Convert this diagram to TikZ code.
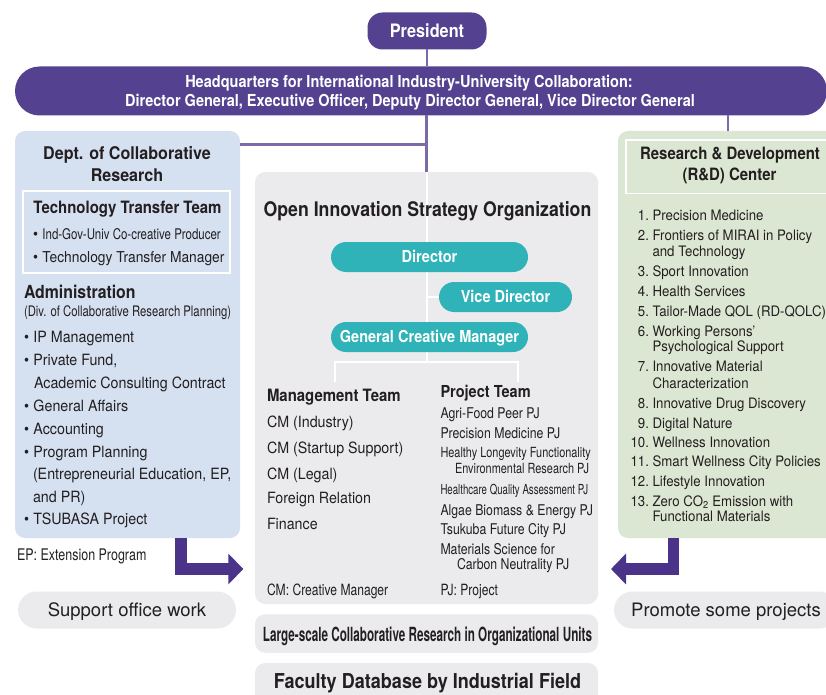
\documentclass[tikz,border=0pt]{standalone}
\usepackage{fontspec}
\setmainfont{TeX Gyre Heros}
\newfontfamily\fbody{TeX Gyre Heros}[FakeStretch=0.92]
\newfontfamily\fhead{TeX Gyre Heros}[FakeStretch=0.88]
\newfontfamily\fproj{TeX Gyre Heros}[FakeStretch=0.83]
\newfontfamily\fcond{TeX Gyre Heros}[FakeStretch=0.78]
\newfontfamily\fxcond{TeX Gyre Heros}[FakeStretch=0.70]
\newfontfamily\fxxcond{TeX Gyre Heros}[FakeStretch=0.60]
\usetikzlibrary{arrows.meta}
\newcommand\fsz[1]{\fontsize{#1pt}{#1pt}\selectfont}
\newcommand\bul{{\fbody\fsz{15.5}\textbullet}\hspace{4.5pt}}
\definecolor{pur}{HTML}{544291}
\definecolor{arpur}{HTML}{4B3389}
\definecolor{lnpur}{HTML}{7D68A8}
\definecolor{tealc}{HTML}{2FB3B8}
\definecolor{bluebox}{HTML}{D5E0F1}
\definecolor{greenbox}{HTML}{DCE7D3}
\definecolor{graybox}{HTML}{EBEBED}
\definecolor{ink}{HTML}{231F20}
\tikzset{
  box/.style={rectangle, rounded corners=10pt, inner sep=0pt, outer sep=0pt},
  pill/.style={rectangle, rounded corners=15pt, inner sep=0pt, outer sep=0pt, text=white, fill=tealc,
    minimum height=30pt, text height=11.9pt, text depth=0pt, font=\fhead\bfseries\fsz{16.5}},
  gpill/.style={rectangle, rounded corners=18.5pt, inner sep=0pt, outer sep=0pt, fill=graybox, text=ink,
    minimum height=37pt, text height=13.3pt, text depth=0pt, font=\fsz{18.5}},
  t/.style={inner sep=0pt, outer sep=0pt, anchor=base west, text=ink},
  tc/.style={inner sep=0pt, outer sep=0pt, anchor=base, text=ink},
  body/.style={t, font=\fbody\fsz{15.5}},
  rdl/.style={t, font=\fbody\fsz{14.4}},
  rdn/.style={inner sep=0pt, outer sep=0pt, anchor=base east, text=ink, font=\fbody\fsz{14.4}},
  proj/.style={t, font=\fproj\fsz{14.8}},
  conn/.style={draw=lnpur, line width=2.4pt},
  wline/.style={draw=white, line width=2pt},
  bigarr/.style={draw=arpur, line width=11.5pt, -{Triangle[length=15pt,width=30pt]}},
}
\begin{document}
\begin{tikzpicture}[x=1pt,y=-1pt]
\useasboundingbox (0,0) rectangle (826,695);
\clip (0,0) rectangle (826,695);

% ---------- top ----------
\node[box, fill=pur, rounded corners=15pt, minimum width=119pt, minimum height=37pt,
  text=white, text height=13.3pt, text depth=0pt, font=\fhead\bfseries\fsz{18.5}] (pres) at (427,31) {President};
\node[box, fill=pur, rounded corners=24.5pt, minimum width=812pt, minimum height=49pt] (hq) at (421,91) {};
\node[tc, text=white, font=\fhead\bfseries\fsz{16.5}] (hq1) at (409,88) {Headquarters for International Industry-University Collaboration:};
\node[tc, text=white, font=\fhead\bfseries\fsz{16.5}] (hq2) at (410,107) {Director General, Executive Officer, Deputy Director General, Vice Director General};

% ---------- left box ----------
\node[box, fill=bluebox, minimum width=225pt, minimum height=407pt] (dept) at (127.5,334.5) {};
\node[tc, font=\fbody\bfseries\fsz{17.5}] (d1) at (127,160) {Dept. of Collaborative};
\node[tc, font=\fbody\bfseries\fsz{17.5}] (d2) at (127,181) {Research};
\node[rectangle, draw=white, line width=1.3pt, inner sep=0pt, minimum width=207pt, minimum height=82pt] (ttb) at (126.5,232) {};
\node[tc, font=\fhead\bfseries\fsz{17}] (tt0) at (127.5,213) {Technology Transfer Team};
\node[t, font=\fcond\fsz{14.7}] (tt1) at (33,239) {\bul Ind-Gov-Univ Co-creative Producer};
\node[t, font=\fbody\fsz{15}] (tt2) at (33,262) {\bul Technology Transfer Manager};
\node[t, font=\fhead\bfseries\fsz{18}] (adm) at (24,298) {Administration};
\node[t, font=\fcond\fsz{14.5}] (adm1) at (24,316.5) {(Div. of Collaborative Research Planning)};
\node[body] (l1) at (24,342) {\bul IP Management};
\node[body] (l2) at (24,365) {\bul Private Fund,};
\node[body] (l2b) at (34,388) {Academic Consulting Contract};
\node[body] (l3) at (24,411) {\bul General Affairs};
\node[body] (l4) at (24,434) {\bul Accounting};
\node[body] (l5) at (24,457) {\bul Program Planning};
\node[body] (l5b) at (33,479) {(Entrepreneurial Education, EP,};
\node[body] (l5c) at (33,502) {and PR)};
\node[body] (l6) at (24,524.5) {\bul TSUBASA Project};
\node[t, font=\fcond\fsz{16}] (ep) at (17,560) {EP: Extension Program};
\node[gpill, minimum width=218pt] (sup) at (127,610) {Support office work};

% ---------- right box ----------
\node[box, fill=greenbox, minimum width=220pt, minimum height=407pt] (rd) at (728,334.5) {};
\node[rectangle, draw=white, line width=1.3pt, inner sep=0pt, minimum width=214pt, minimum height=53.3pt] (rdt) at (733,166.7) {};
\node[tc, font=\fhead\bfseries\fsz{17}] (r1) at (730,160) {Research \& Development};
\node[tc, font=\fhead\bfseries\fsz{17}] (r2) at (729.5,180.5) {(R\&D) Center};
\node[rdn] (n1) at (649,220) {1.};  \node[rdl] (i1) at (652.5,220) {Precision Medicine};
\node[rdn] (n2) at (649,240) {2.};  \node[rdl] (i2) at (652.5,240) {Frontiers of MIRAI in Policy};
\node[rdl] (i2b) at (652.5,256.7) {and Technology};
\node[rdn] (n3) at (649,276.7) {3.}; \node[rdl] (i3) at (652.5,276.7) {Sport Innovation};
\node[rdn] (n4) at (649,296.7) {4.}; \node[rdl] (i4) at (652.5,296.7) {Health Services};
\node[rdn] (n5) at (649,316) {5.};   \node[rdl] (i5) at (652.5,316) {Tailor-Made QOL (RD-QOLC)};
\node[rdn] (n6) at (649,336) {6.};   \node[rdl] (i6) at (652.5,336) {Working Persons’};
\node[rdl] (i6b) at (652.5,351.7) {Psychological Support};
\node[rdn] (n7) at (649,371.7) {7.}; \node[rdl] (i7) at (652.5,371.7) {Innovative Material};
\node[rdl] (i7b) at (652.5,388.3) {Characterization};
\node[rdn] (n8) at (649,408.3) {8.}; \node[rdl] (i8) at (652.5,408.3) {Innovative Drug Discovery};
\node[rdn] (n9) at (649,428.3) {9.}; \node[rdl] (i9) at (652.5,428.3) {Digital Nature};
\node[rdn] (n10) at (649,447.7) {10.}; \node[rdl] (i10) at (652.5,447.7) {Wellness Innovation};
\node[rdn] (n11) at (649,466.7) {11.}; \node[rdl] (i11) at (652.5,466.7) {Smart Wellness City Policies};
\node[rdn] (n12) at (649,486) {12.};   \node[rdl] (i12) at (652.5,486) {Lifestyle Innovation};
\node[rdn] (n13) at (649,506) {13.};   \node[rdl] (i13) at (652.5,506) {Zero CO\textsubscript{2} Emission with};
\node[rdl] (i13b) at (652.5,521.7) {Functional Materials};
\node[gpill, minimum width=224pt] (prom) at (726,610) {Promote some projects};

% ---------- centre box ----------
\node[box, fill=graybox, minimum width=343pt, minimum height=432pt] (oiso) at (426.5,388) {};
\coordinate (bk) at (oiso.north |- 0,362);
\coordinate (vw) at (439,297);
\coordinate (bl) at (335,382);
\coordinate (br) at (518,382);
\draw[wline] (oiso.north) -- (bk);
\draw[wline] (vw -| bk) -- (vw);
\draw[wline] (bl) |- (bk) -| (br);
\node[tc, font=\fhead\bfseries\fsz{20.1}] (oisot) at (427.5,216) {Open Innovation Strategy Organization};
\node[pill, minimum width=197pt] (dir) at (429.5,257) {Director};
\node[pill, minimum width=133pt, anchor=west] (vice) at (vw) {Vice Director};
\node[pill, minimum width=197pt] (gcm) at (429.5,337) {General Creative Manager};

\node[t, font=\fhead\bfseries\fsz{17}] (mt) at (267,401) {Management Team};
\node[body] (m1) at (267,427) {CM (Industry)};
\node[body] (m2) at (267,453) {CM (Startup Support)};
\node[body] (m3) at (267,479) {CM (Legal)};
\node[body] (m4) at (267,503.5) {Foreign Relation};
\node[body] (m5) at (267,529.5) {Finance};
\node[t, font=\fcond\fsz{15.5}] (cm) at (267,595) {CM: Creative Manager};

\node[t, font=\fhead\bfseries\fsz{16.5}] (pt) at (440.5,397) {Project Team};
\node[proj] (p1) at (440.5,418.3) {Agri-Food Peer PJ};
\node[proj] (p2) at (440.5,438) {Precision Medicine PJ};
\node[t, font=\fcond\fsz{14}] (p3) at (440.5,457.3) {Healthy Longevity Functionality};
\node[t, font=\fcond\fsz{14}] (p3b) at (455,473.3) {Environmental Research PJ};
\node[t, font=\fxcond\fsz{13.8}] (p4) at (440.5,494) {Healthcare Quality Assessment PJ};
\node[proj] (p5) at (440.5,515) {Algae Biomass \& Energy PJ};
\node[proj] (p6) at (440.5,534.3) {Tsukuba Future City PJ};
\node[proj] (p7) at (440.5,554) {Materials Science for};
\node[proj] (p7b) at (457,569.3) {Carbon Neutrality PJ};
\node[t, font=\fcond\fsz{15.5}] (pj) at (440.5,595) {PJ: Project};

\node[box, fill=graybox, minimum width=343pt, minimum height=38.5pt] (large) at (426.5,633.5) {};
\node[tc, font=\fxxcond\bfseries\fsz{19.5}] (larget) at (427.5,641.5) {Large-scale Collaborative Research in Organizational Units};
\node[box, fill=graybox, minimum width=343pt, minimum height=42pt] (fac) at (426.5,684) {};
\node[tc, font=\fhead\bfseries\fsz{20.5}] (fact) at (427.5,688.5) {Faculty Database by Industrial Field};

% ---------- connectors ----------
\draw[conn] (pres.south) -- (pres.south |- hq.north);
\draw[conn] (oiso.north |- hq.south) -- (oiso.north);
\coordinate (lj) at (oiso.north |- 0,144.5);
\draw[conn] (dept.east |- lj) -- (lj);
\coordinate (rj) at (728,100);
\draw[conn] (rj |- hq.south) -- (rj |- rd.north);

\coordinate (lb) at (181,569);
\coordinate (lt) at (243.3,569);
\draw[bigarr] (dept.south -| lb) -- (lb) -- (lt);
\coordinate (rb) at (673.5,569);
\coordinate (rt) at (611,569);
\draw[bigarr] (rd.south -| rb) -- (rb) -- (rt);
\end{tikzpicture}
\end{document}
